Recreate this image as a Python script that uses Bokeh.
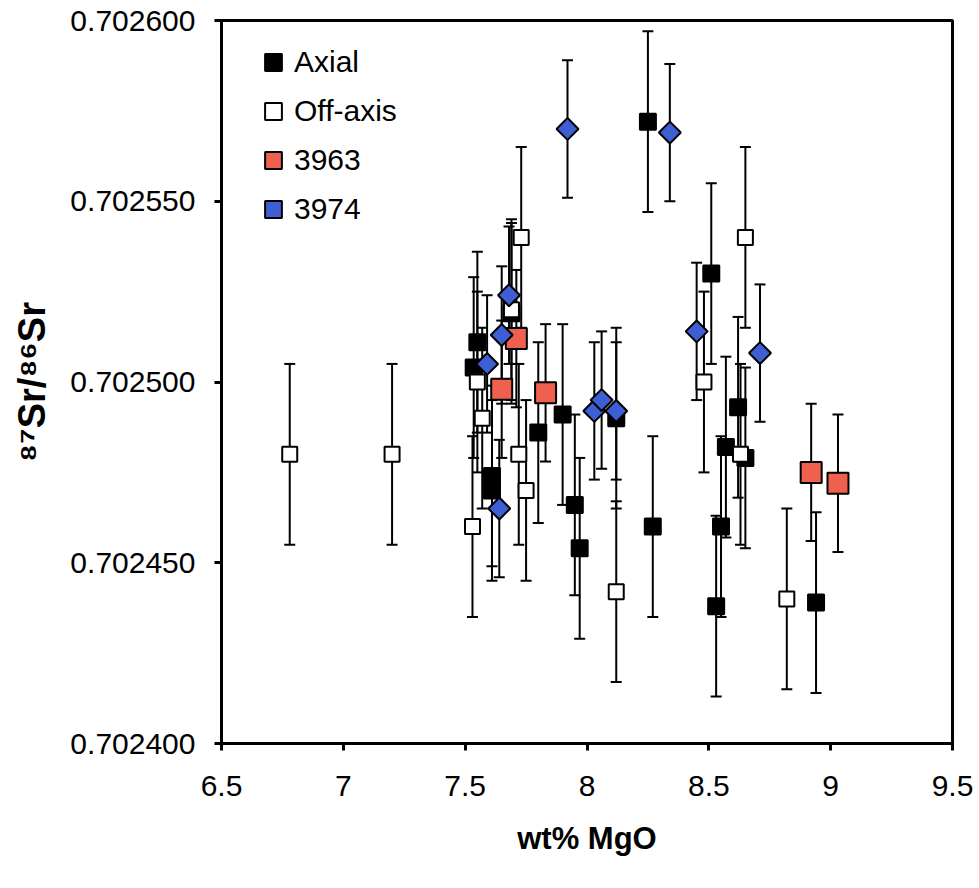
import numpy as np
from bokeh.plotting import figure
from bokeh.models import (ColumnDataSource, Whisker, TeeHead, FixedTicker,
                          PrintfTickFormatter, CustomJSTickFormatter, Legend,
                          LegendItem, Range1d)
from bokeh.embed import file_html
from bokeh.resources import INLINE

# ---------------- data ----------------
axial_mgo = [8.25, 7.55, 7.535, 7.69, 7.90, 8.12, 7.80, 7.61, 7.61, 7.95,
             7.97, 8.27, 8.51, 8.62, 8.57, 8.65, 8.55, 8.53, 8.94]
axial_sr = [0.702572, 0.702511, 0.702504, 0.702519, 0.702491, 0.702490,
            0.702486, 0.702474, 0.702470, 0.702466, 0.702454, 0.702460,
            0.702530, 0.702493, 0.702482, 0.702479, 0.702460, 0.702438,
            0.702439]
axial_err = 0.000025

off_mgo = [6.78, 7.20, 7.53, 7.55, 7.57, 7.73, 7.69, 7.72, 7.75, 8.12,
           8.65, 8.48, 8.63, 8.82]
off_sr = [0.702480, 0.702480, 0.702460, 0.702500, 0.702490, 0.702540,
          0.702520, 0.702480, 0.702470, 0.702442, 0.702540, 0.702500,
          0.702480, 0.702440]
off_err = 0.000025

s3963_mgo = [7.71, 7.65, 7.83, 8.92, 9.03]
s3963_sr = [0.702512, 0.702498, 0.702497, 0.702475, 0.702472]
s3963_err = 0.000019

s3974_mgo = [7.92, 8.34, 7.68, 7.65, 7.59, 8.03, 8.06, 8.12, 7.64, 8.45, 8.71]
s3974_sr = [0.702570, 0.702569, 0.702524, 0.702513, 0.702505, 0.702492,
            0.702495, 0.702492, 0.702465, 0.702514, 0.702508]
s3974_err = 0.000019

x_ticks = [6.5, 7.0, 7.5, 8.0, 8.5, 9.0, 9.5]
y_ticks = [0.7024, 0.70245, 0.7025, 0.70255, 0.7026]

series_labels = ["Axial", "Off-axis", "3963", "3974"]
x_title = "wt% MgO"
y_title = "⁸⁷Sr/⁸⁶Sr"

FONT = "Liberation Sans"
X0, X1 = 6.5, 9.5
Y0, Y1 = 0.7024, 0.7026

# frame geometry (screen px)
FL, FR, FT, FB = 221, 952, 20, 743

p = figure(width=979, height=888, output_backend="svg", toolbar_location=None,
           x_range=Range1d(X0, X1), y_range=Range1d(Y0, Y1),
           min_border_left=FL, min_border_right=979 - FR, min_border_top=FT,
           min_border_bottom=888 - FB)

p.xgrid.visible = False
p.ygrid.visible = False
p.outline_line_color = "black"
p.outline_line_width = 3
p.background_fill_color = "white"
p.border_fill_color = "white"

def add_series(xs, ys, err, marker, size, fill, angle=0.0):
    src = ColumnDataSource(dict(x=xs, y=ys,
                                upper=[v + err for v in ys],
                                lower=[v - err for v in ys]))
    w = Whisker(source=src, base="x", upper="upper", lower="lower",
                line_color="black", line_width=2, level="underlay",
                upper_head=TeeHead(size=11, line_width=2, line_color="black"),
                lower_head=TeeHead(size=11, line_width=2, line_color="black"))
    p.add_layout(w)
    r = p.scatter("x", "y", source=src, marker=marker, size=size,
                  fill_color=fill, line_color="black", line_width=2,
                  angle=angle)
    return r

r_ax = add_series(axial_mgo, axial_sr, axial_err, "square", 16, "black")
r_off = add_series(off_mgo, off_sr, off_err, "square", 15, "white")
r_63 = add_series(s3963_mgo, s3963_sr, s3963_err, "square", 21, "#F0604E")
r_74 = add_series(s3974_mgo, s3974_sr, s3974_err, "square", 15.5, "#3D5FD3",
                  angle=np.pi / 4)

legend = Legend(items=[LegendItem(label=series_labels[0], renderers=[r_ax]),
                       LegendItem(label=series_labels[1], renderers=[r_off]),
                       LegendItem(label=series_labels[2], renderers=[r_63]),
                       LegendItem(label=series_labels[3], renderers=[r_74])],
                location=(31, 513), glyph_width=42, glyph_height=42,
                spacing=7, label_standoff=-2, padding=0, margin=0,
                border_line_color=None, background_fill_alpha=0,
                label_text_font=FONT, label_text_font_size="30px",
                label_text_color="black")
p.add_layout(legend)

# axes
for ax in (p.xaxis[0], p.yaxis[0]):
    ax.axis_line_width = 3
    ax.axis_line_color = "black"
    ax.major_tick_line_width = 3
    ax.major_tick_in = 0
    ax.major_tick_out = 7
    ax.minor_tick_line_color = None
    ax.major_label_text_font = FONT
    ax.major_label_text_font_size = "30px"
    ax.major_label_text_color = "black"
    ax.axis_label_text_font = FONT
    ax.axis_label_text_font_style = "bold"
    ax.axis_label_text_color = "black"

p.xaxis.ticker = FixedTicker(ticks=x_ticks)
p.xaxis.formatter = CustomJSTickFormatter(code="return String(Math.round(tick*10)/10);")
p.xaxis.major_label_standoff = 25
p.xaxis.axis_label = x_title
p.xaxis.axis_label_text_font_size = "31px"
p.xaxis.axis_label_standoff = 22

p.yaxis.ticker = FixedTicker(ticks=y_ticks)
p.yaxis.formatter = PrintfTickFormatter(format="%.6f")
p.yaxis.major_label_standoff = 19
p.yaxis.axis_label = y_title
p.yaxis.axis_label_text_font_size = "38px"
p.yaxis.axis_label_standoff = 14

open("out.html", "w").write(file_html(p, INLINE))
